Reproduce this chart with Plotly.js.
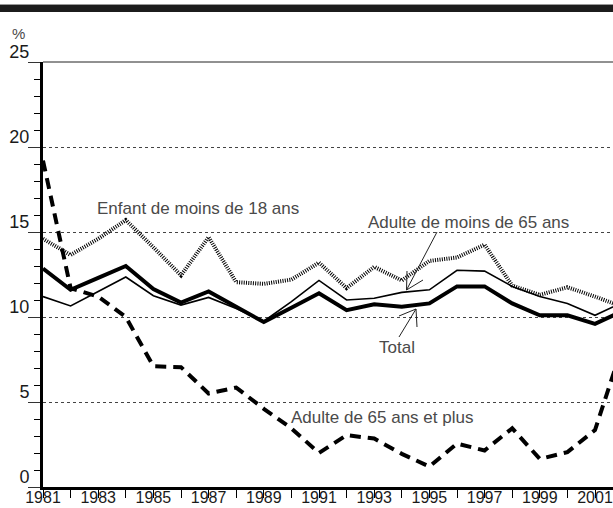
<!DOCTYPE html>
<html>
<head>
<meta charset="utf-8">
<script src="https://cdn.plot.ly/plotly-3.0.1.min.js"></script>
<style>
  html, body { margin: 0; padding: 0; background: #fff; }
  #chart { width: 613px; height: 508px; }
</style>
</head>
<body>
<div id="chart"></div>
<script>
// years and series (%)
const years = [1981, 1982, 1983, 1984, 1985, 1986, 1987, 1988, 1989, 1990, 1991,
               1992, 1993, 1994, 1995, 1996, 1997, 1998, 1999, 2000, 2001, 2002];
const total = [12.85, 11.6, 12.3, 13.0, 11.65, 10.85, 11.5, 10.6, 9.7, 10.55, 11.4,
               10.4, 10.75, 10.6, 10.8, 11.8, 11.8, 10.8, 10.1, 10.1, 9.6, 10.35];
const adulteMoins65 = [11.2, 10.65, 11.5, 12.35, 11.25, 10.7, 11.15, 10.5, 9.75, 10.9, 12.15,
                       11.0, 11.1, 11.45, 11.6, 12.75, 12.7, 11.8, 11.2, 10.8, 10.1, 10.85];
const enfant = [14.6, 13.65, 14.6, 15.7, 14.1, 12.45, 14.7, 12.05, 11.95, 12.2, 13.2,
                11.7, 12.95, 12.15, 13.3, 13.5, 14.25, 11.85, 11.3, 11.75, 11.2, 10.6];
const adulte65Plus = [19.2, 11.7, 11.2, 10.0, 7.1, 7.05, 5.5, 5.85, 4.6, 3.45, 2.0,
                      3.05, 2.85, 1.95, 1.2, 2.55, 2.15, 3.45, 1.65, 2.05, 3.35, 8.3];

const yTicks = [0, 5, 10, 15, 20, 25];

const W = 613, H = 508;
const M = {l: 43, r: 0, t: 62, b: 21};
// pixel -> paper helpers for annotations and decorations
function px(x) { return (x - M.l) / (W - M.l - M.r); }
function py(y) { return (H - M.b - y) / (H - M.t - M.b); }

const grey = '#4a4a4a';
const txtFont = {family: 'Liberation Sans, Arial, sans-serif', size: 17, color: grey};

const traces = [
  {x: years, y: enfant, mode: 'lines', name: 'Enfant de moins de 18 ans',
   line: {color: '#000', width: 4, dash: '1px,1.3px'}},
  {x: years, y: adulteMoins65, mode: 'lines', name: 'Adulte de moins de 65 ans',
   line: {color: '#000', width: 1.6}},
  {x: years, y: total, mode: 'lines', name: 'Total',
   line: {color: '#000', width: 4}},
  {x: years, y: adulte65Plus, mode: 'lines', name: 'Adulte de 65 ans et plus',
   line: {color: '#000', width: 4, dash: '11px,7px'}}
];

function arrow(x0, y0, x1, y1, w1, w2) {
  // stem plus an open V head, all in pixels
  return {
    type: 'path', xref: 'paper', yref: 'paper',
    path: 'M' + px(x0) + ',' + py(y0) + 'L' + px(x1) + ',' + py(y1) +
          'M' + px(w1[0]) + ',' + py(w1[1]) + 'L' + px(x1) + ',' + py(y1) +
          'L' + px(w2[0]) + ',' + py(w2[1]),
    line: {color: '#222', width: 1}
  };
}

const layout = {
  width: W, height: H,
  margin: M,
  paper_bgcolor: '#fff', plot_bgcolor: '#fff',
  showlegend: false,
  font: {family: 'Liberation Sans, Arial, sans-serif', color: '#1a1a1a'},
  xaxis: {
    range: [1981, 1981 + (W - M.l - M.r) / 27.6],
    tickmode: 'linear', tick0: 1981, dtick: 2,
    ticks: 'outside', ticklen: 8, tickwidth: 1, tickcolor: '#000',
    minor: {dtick: 1, tick0: 1981, ticks: 'outside', ticklen: 8, tickwidth: 1, tickcolor: '#000', showgrid: false},
    showgrid: false, zeroline: false,
    showline: true, linecolor: '#000', linewidth: 3,
    tickfont: {size: 16, color: '#1a1a1a'},
    ticklabelstandoff: -14,
    ticklabeloverflow: 'allow',
    fixedrange: true
  },
  yaxis: {
    range: [0, 25],
    tickvals: yTicks, ticktext: yTicks.map(String),
    ticks: 'outside', ticklen: 12, tickwidth: 1, tickcolor: '#333',
    minor: {dtick: 1, ticks: 'outside', ticklen: 6, tickwidth: 1, tickcolor: '#000', showgrid: false},
    showgrid: true, gridcolor: '#444', gridwidth: 1, griddash: 'dot',
    zeroline: false,
    showline: true, linecolor: '#000', linewidth: 3,
    tickfont: {size: 18, color: '#1a1a1a'},
    ticklabelshift: -10, ticklabelstandoff: -5,
    fixedrange: true
  },
  shapes: [
    // black band at the top of the figure
    {type: 'rect', xref: 'paper', yref: 'paper', x0: px(0), x1: px(W), y0: py(12), y1: py(5),
     fillcolor: '#1c1c1c', line: {width: 0}},
    {type: 'line', xref: 'paper', yref: 'paper', x0: px(0), x1: px(W), y0: py(4.5), y1: py(4.5),
     line: {color: '#999', width: 1}},
    // top frame at 25
    {type: 'line', xref: 'paper', yref: 'paper', x0: 0, x1: 1, y0: 1, y1: 1,
     line: {color: '#222', width: 1}},
    arrow(437, 232, 406.5, 290, [407, 271], [423, 280]),
    arrow(399, 337, 416, 309, [399, 316], [417, 327])
  ],
  annotations: [
    {xref: 'paper', yref: 'paper', x: px(10), y: py(33), xanchor: 'left', yanchor: 'middle',
     text: '%', showarrow: false, font: {family: txtFont.family, size: 15, color: grey}},
    {xref: 'paper', yref: 'paper', x: px(95), y: py(208), xanchor: 'left', yanchor: 'middle',
     text: 'Enfant de moins de 18 ans', showarrow: false, font: txtFont},
    {xref: 'paper', yref: 'paper', x: px(366), y: py(222), xanchor: 'left', yanchor: 'middle',
     text: 'Adulte de moins de 65 ans', showarrow: false, font: txtFont},
    {xref: 'paper', yref: 'paper', x: px(377), y: py(347), xanchor: 'left', yanchor: 'middle',
     text: 'Total', showarrow: false, font: txtFont},
    {xref: 'paper', yref: 'paper', x: px(289), y: py(417), xanchor: 'left', yanchor: 'middle',
     text: 'Adulte de 65 ans et plus', showarrow: false, font: txtFont}
  ]
};

Plotly.newPlot('chart', traces, layout, {displayModeBar: false, staticPlot: true});
</script>
</body>
</html>
